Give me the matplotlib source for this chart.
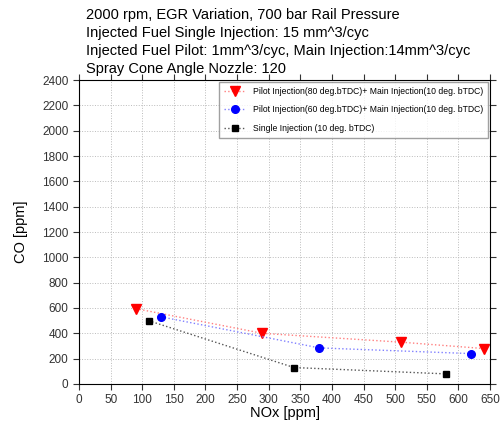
import matplotlib.pyplot as plt

# Data
nox_pilot80 = [90, 290, 510, 640]
co_pilot80 = [595, 400, 330, 280]
nox_pilot60 = [130, 380, 620]
co_pilot60 = [530, 285, 240]
nox_single = [110, 340, 580]
co_single = [500, 130, 80]

title_lines = [
    "2000 rpm, EGR Variation, 700 bar Rail Pressure",
    "Injected Fuel Single Injection: 15 mm^3/cyc",
    "Injected Fuel Pilot: 1mm^3/cyc, Main Injection:14mm^3/cyc",
    "Spray Cone Angle Nozzle: 120",
]

plt.rcParams['font.family'] = ['Liberation Sans', 'DejaVu Sans']

fig = plt.figure(figsize=(5.04, 4.21), dpi=100)
ax = fig.add_axes([79 / 504, 1 - 384 / 421, (490 - 79) / 504, (384 - 80) / 421])

ax.plot(nox_pilot80, co_pilot80, ls=':', color='#ff8080', lw=1, marker='v',
        mfc='red', mec='red', ms=6.5,
        label='Pilot Injection(80 deg.bTDC)+ Main Injection(10 deg. bTDC)')
ax.plot(nox_pilot60, co_pilot60, ls=':', color='#8080ff', lw=1, marker='o',
        mfc='blue', mec='blue', ms=5.5,
        label='Pilot Injection(60 deg.bTDC)+ Main Injection(10 deg. bTDC)')
ax.plot(nox_single, co_single, ls=':', color='#555555', lw=1, marker='s',
        mfc='black', mec='black', ms=4.5,
        label='Single Injection (10 deg. bTDC)')

ax.set_xlim(0, 650)
ax.set_ylim(0, 2400)
ax.set_xticks(range(0, 651, 50))
ax.set_yticks(range(0, 2401, 200))
ax.tick_params(labelsize=8.5, colors='#333333', direction='out', length=4)
ax.tick_params(axis='x', top=True)
ax.tick_params(axis='y', right=True)
ax.grid(True, ls=':', color='#bbbbbb', lw=0.7)

ax.set_xlabel('NOx [ppm]', fontsize=10.5, labelpad=0)
ax.set_ylabel('CO [ppm]', fontsize=10.5, labelpad=10)

fig.text(86 / 504, 1 - 8 / 421, "\n".join(title_lines), ha='left', va='top',
         fontsize=10.5, linespacing=1.35)

ax.legend(loc='upper right', fontsize=6.2, frameon=True, fancybox=False,
          edgecolor='#888888', borderaxespad=0.2, handlelength=2.5,
          labelspacing=1.1, borderpad=0.6)

fig.savefig('out.png', dpi=100)
